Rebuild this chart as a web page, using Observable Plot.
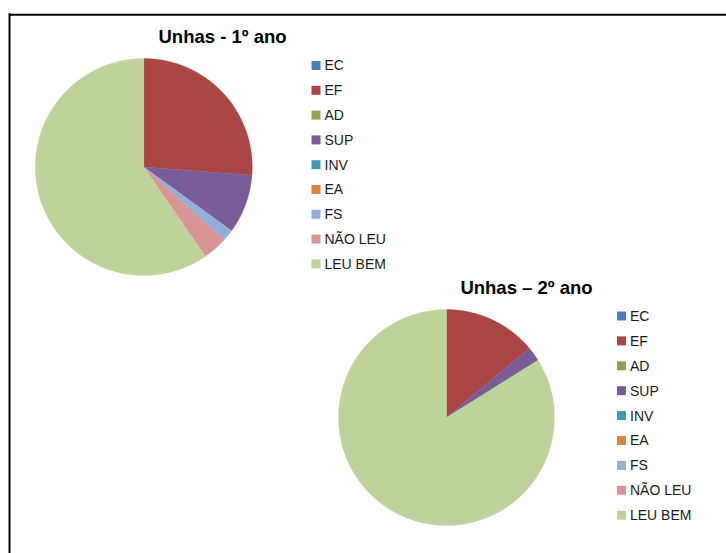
<!DOCTYPE html>
<html><head><meta charset="utf-8">
<script src="https://cdn.jsdelivr.net/npm/d3@7"></script>
<script src="https://cdn.jsdelivr.net/npm/@observablehq/plot@0.6"></script>
<style>body{margin:0;background:#fff;} #chart svg{display:block;}</style>
</head><body><div id="chart"></div>
<script>
const categories = ["EC", "EF", "AD", "SUP", "INV", "EA", "FS", "NÃO LEU", "LEU BEM"];
const colors = ["#4A7EBB", "#AA4643", "#89A54E", "#7A5C99", "#4198AF", "#DB843D", "#93AEDB", "#D99594", "#BDD39A"];
const values1 = [0, 26.2, 0, 8.8, 0, 0, 1.7, 3.7, 59.6];
const values2 = [0, 13.9, 0, 2.2, 0, 0, 0, 0, 83.9];
const titles = ["Unhas - 1º ano", "Unhas – 2º ano"];

// layout (pixel units of the x/y scales)
const W = 726, H = 553;
const pies = [
  {values: values1, title: titles[0], cx: 143.3, cy: 166.5, r: 108.5, tx: 222, ty: 37, lx: 316, ly: 65.5, step: 24.8},
  {values: values2, title: titles[1], cx: 446, cy: 417, r: 108, tx: 526, ty: 288, lx: 621.5, ly: 316, step: 24.9}
];

const slicePts = [];
const legendRows = [];
const titleRows = [];
pies.forEach((p, pi) => {
  const total = d3.sum(p.values);
  let acc = 0;
  p.values.forEach((v, i) => {
    const a0 = acc / total * 2 * Math.PI;
    acc += v;
    const a1 = acc / total * 2 * Math.PI;
    if (v > 0) {
      const key = pi + "-" + i;
      const n = Math.max(2, Math.ceil((a1 - a0) / (Math.PI / 360)));
      slicePts.push({key, cat: categories[i], x: p.cx, y: p.cy});
      for (let j = 0; j <= n; j++) {
        const a = a0 + (a1 - a0) * j / n;
        slicePts.push({key, cat: categories[i], x: p.cx + p.r * Math.sin(a), y: p.cy - p.r * Math.cos(a)});
      }
      slicePts.push({key, cat: categories[i], x: p.cx, y: p.cy});
    }
  });
  categories.forEach((c, i) => legendRows.push({cat: c, x: p.lx, y: p.ly + i * p.step}));
  titleRows.push({text: p.title, x: p.tx, y: p.ty});
});

const half = 4.5;
const chart = Plot.plot({
  width: W, height: H,
  margin: 0,
  x: {domain: [0, W], range: [0, W], axis: null},
  y: {domain: [0, H], range: [0, H], axis: null},
  color: {domain: categories, range: colors},
  style: {fontFamily: "'Liberation Sans', Arial, sans-serif", background: "#fff"},
  marks: [
    Plot.line(slicePts, {x: "x", y: "y", z: "key", fill: "cat", stroke: "cat", strokeWidth: 0.3, curve: "linear"}),
    Plot.rect(legendRows, {x1: d => d.x - half, x2: d => d.x + half, y1: d => d.y - half, y2: d => d.y + half, fill: "cat"}),
    Plot.text(legendRows, {x: d => d.x + 8, y: "y", text: "cat", textAnchor: "start", fontSize: 14, fill: "#1a1a1a"}),
    Plot.text(titleRows, {x: "x", y: "y", text: "text", fontSize: 18.5, fontWeight: "bold", fill: "#000"}),
    Plot.ruleY([14.3], {x1: 9, x2: W, stroke: "#000", strokeWidth: 2}),
    Plot.ruleX([9], {y1: 13.3, y2: H, stroke: "#000", strokeWidth: 2})
  ]
});
document.getElementById("chart").append(chart);
</script>
</body></html>
